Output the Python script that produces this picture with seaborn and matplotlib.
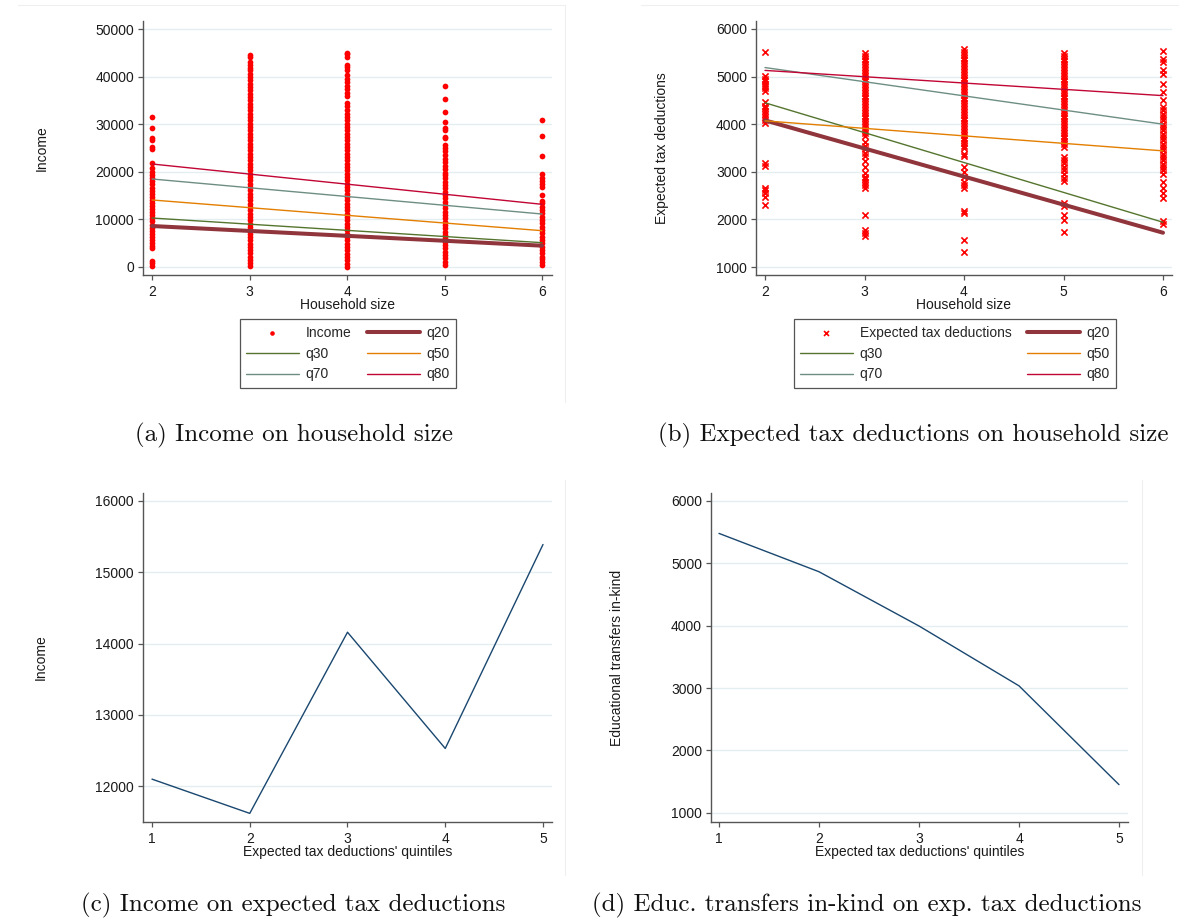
import numpy as np
import pandas as pd
import matplotlib
matplotlib.use("Agg")
import matplotlib.pyplot as plt
from matplotlib.lines import Line2D
import seaborn as sns

# ---------------- data ----------------
hh_sizes = [2, 3, 4, 5, 6]
inc_hh2 = [280, 770, 1330, 3920, 4400, 5100, 5650, 6300, 7000, 7600, 8250, 8900, 9600, 10200,
           10900, 11500, 12150, 12800, 13500, 14100, 14800, 15400, 16050, 16700, 17400, 18000,
           18700, 19300, 20000, 20700, 21900, 24800, 25300, 26700, 27200, 29300, 31600]
inc_hh3 = [300, 900, 1500, 2200, 2850, 3500, 4200, 4900, 5600, 6300, 7000, 7650, 8400, 9100,
           9800, 10500, 11150, 11900, 12600, 13300, 14000, 14700, 15400, 16100, 16800, 17500,
           18200, 18900, 19600, 20300, 21000, 21700, 22400, 23100, 23800, 24500, 25200, 25900,
           26600, 27300, 28000, 28700, 29400, 30100, 30800, 31500, 32200, 32900, 33600, 34300,
           35000, 35700, 36400, 37100, 37800, 38500, 39200, 39900, 40600, 41300, 41900, 42400,
           43100, 44200, 44500]
inc_hh4 = [70, 700, 1400, 2100, 2800, 3500, 4200, 4900, 5600, 6300, 7000, 7700, 8400, 9100,
           9800, 10500, 11200, 11900, 12600, 13300, 14000, 14700, 15400, 16100, 16800, 17500,
           18200, 18900, 19600, 20300, 21000, 21700, 22400, 23100, 23800, 24500, 25200, 25900,
           26600, 27300, 28000, 28700, 29400, 30100, 30800, 31500, 32200, 33000, 33800, 34500,
           35900, 36600, 37300, 38000, 38800, 39600, 40300, 41400, 42000, 42400, 44200, 44700,
           45000]
inc_hh5 = [450, 1100, 1800, 2500, 3200, 3900, 4600, 5300, 6000, 6700, 7400, 8100, 8800, 9500,
           10200, 10900, 11600, 12300, 13000, 13700, 14400, 15100, 15800, 16500, 17200, 17900,
           18600, 19300, 19800, 20500, 21200, 22000, 22700, 23500, 24300, 25100, 25700, 27000,
           27400, 28700, 29300, 30500, 32500, 35300, 38000]
inc_hh6 = [480, 1000, 1700, 2200, 3000, 3600, 4300, 5000, 5700, 6400, 7100, 7800, 8500, 9200,
           9900, 10600, 11300, 12000, 12700, 13400, 13900, 15100, 16800, 17400, 18100, 18800,
           19500, 23400, 27600, 30900]

ded_hh2 = [5520, 5010, 4960, 4900, 4850, 4800, 4750, 4690, 4470, 4390, 4330, 4270, 4210, 4150,
           4090, 4030, 3175, 3130, 2650, 2610, 2560, 2480, 2300]
ded_hh3 = [5500, 5440, 5380, 5320, 5260, 5200, 5140, 5080, 5020, 4960, 4900, 4840, 4780, 4720,
           4660, 4600, 4540, 4480, 4420, 4360, 4300, 4240, 4180, 4120, 4060, 4000, 3940, 3880,
           3820, 3760, 3620, 3540, 3470, 3400, 3330, 3220, 3110, 2980, 2900, 2850, 2790, 2730,
           2670, 2100, 1780, 1710, 1650]
ded_hh4 = [5580, 5520, 5460, 5400, 5340, 5280, 5220, 5160, 5100, 5040, 4980, 4920, 4860, 4800,
           4740, 4680, 4620, 4560, 4500, 4440, 4380, 4320, 4260, 4200, 4140, 4080, 4020, 3960,
           3900, 3840, 3780, 3720, 3660, 3600, 3540, 3500, 3370, 3330, 3100, 3000, 2900, 2780,
           2720, 2660, 2180, 2130, 1570, 1320]
ded_hh5 = [5500, 5440, 5380, 5320, 5260, 5200, 5140, 5080, 5020, 4960, 4900, 4840, 4780, 4720,
           4660, 4600, 4540, 4480, 4420, 4360, 4300, 4240, 4180, 4120, 4060, 4000, 3940, 3880,
           3820, 3760, 3700, 3640, 3580, 3530, 3320, 3250, 3180, 3100, 3040, 2950, 2880, 2800,
           2340, 2280, 2100, 1990, 1730]
ded_hh6 = [5540, 5380, 5310, 5130, 5060, 4850, 4680, 4500, 4360, 4290, 4220, 4150, 4080, 4010,
           3940, 3870, 3800, 3730, 3660, 3590, 3520, 3450, 3380, 3310, 3240, 3170, 3100, 3030,
           2960, 2790, 2650, 2550, 2450, 1960, 1910]

# quantile regression fits evaluated at household size 2 and 6
hh_ends = [2, 6]
inc_q20 = [8610, 4480]
inc_q30 = [10290, 5110]
inc_q50 = [14080, 7630]
inc_q70 = [18490, 11130]
inc_q80 = [21640, 13170]
ded_q20 = [4080, 1720]
ded_q30 = [4450, 1940]
ded_q50 = [4070, 3440]
ded_q70 = [5190, 4000]
ded_q80 = [5130, 4600]

quintiles = [1, 2, 3, 4, 5]
income_by_quintile = [12100, 11620, 14160, 12530, 15390]
educ_by_quintile = [5480, 4865, 3995, 3035, 1450]

income_ticks = [0, 10000, 20000, 30000, 40000, 50000]
ded_ticks = [1000, 2000, 3000, 4000, 5000, 6000]
inc_q_ticks = [12000, 13000, 14000, 15000, 16000]
educ_ticks = [1000, 2000, 3000, 4000, 5000, 6000]

captions = ["(a) Income on household size",
            "(b) Expected tax deductions on household size",
            "(c) Income on expected tax deductions",
            "(d) Educ. transfers in-kind on exp. tax deductions"]

# ---------------- style ----------------
sns.set_theme(style="white")
plt.rcParams["font.family"] = ["Liberation Sans", "DejaVu Sans"]

C_NAVY = "#1a476f"
C_MAROON = "#90353b"
C_GREEN = "#55752f"
C_ORANGE = "#e37e00"
C_TEAL = "#6e8e84"
C_CRAN = "#c10534"
C_RED = "#ff0000"
AX_COL = "#555555"
GRID_COL = "#e3eef0"
FS = 10

W, H = 1179, 922
fig = plt.figure(figsize=(W / 100, H / 100), dpi=100)
fig.patch.set_facecolor("white")


def add_ax(l, t, r, b):
    return fig.add_axes([l / W, 1 - b / H, (r - l) / W, (b - t) / H])


def style(ax, xticks, yticks):
    ax.set_facecolor("white")
    for s in ["top", "right"]:
        ax.spines[s].set_visible(False)
    for s in ["left", "bottom"]:
        ax.spines[s].set_color(AX_COL)
        ax.spines[s].set_linewidth(1.0)
    ax.set_xticks(xticks, labels=[str(v) for v in xticks])
    ax.set_yticks(yticks, labels=[str(v) for v in yticks])
    ax.tick_params(axis="both", which="major", bottom=True, left=True, direction="out",
                   length=3.5, width=0.9, color=AX_COL, labelsize=FS, labelcolor="#1a1a1a")
    ax.tick_params(axis="x", pad=4)
    ax.tick_params(axis="y", pad=3)
    ax.grid(axis="y", color=GRID_COL, linewidth=1.0)
    ax.grid(axis="x", visible=False)
    ax.set_axisbelow(True)


def labels(ax, xlabel, ylabel, ylab_x, xlab_y):
    ax.set_xlabel(xlabel, fontsize=FS, color="#1a1a1a")
    ax.set_ylabel(ylabel, fontsize=FS, color="#1a1a1a")
    ax.xaxis.set_label_coords(0.5, xlab_y)
    ax.xaxis.label.set_verticalalignment("center")
    ax.yaxis.set_label_coords(ylab_x, 0.5)
    ax.yaxis.label.set_verticalalignment("center")


# ---------------- panel (a) ----------------
ax_a = add_ax(143, 21, 552, 275)
df_a = pd.DataFrame({
    "hh": [2] * len(inc_hh2) + [3] * len(inc_hh3) + [4] * len(inc_hh4) + [5] * len(inc_hh5) + [6] * len(inc_hh6),
    "income": inc_hh2 + inc_hh3 + inc_hh4 + inc_hh5 + inc_hh6,
})
sns.scatterplot(data=df_a, x="hh", y="income", ax=ax_a, color=C_RED, s=17, marker="o",
                linewidth=0, label="Income", zorder=3)
for vals, col, lw, lab in [(inc_q20, C_MAROON, 2.9, "q20"), (inc_q30, C_GREEN, 1.0, "q30"),
                           (inc_q50, C_ORANGE, 1.0, "q50"), (inc_q70, C_TEAL, 1.0, "q70"),
                           (inc_q80, C_CRAN, 1.0, "q80")]:
    sns.lineplot(x=hh_ends, y=vals, ax=ax_a, color=col, linewidth=lw, label=lab, zorder=4)
ax_a.set_xlim(2 - 9 / 97.5, 6 + 10 / 97.5)
ax_a.set_ylim(-1681, 51681)
style(ax_a, hh_sizes, income_ticks)
labels(ax_a, "Household size", "Income", (42 - 143) / 409, -(305 - 275) / 254)

# ---------------- panel (b) ----------------
ax_b = add_ax(756, 21, 1172, 275)
df_b = pd.DataFrame({
    "hh": [2] * len(ded_hh2) + [3] * len(ded_hh3) + [4] * len(ded_hh4) + [5] * len(ded_hh5) + [6] * len(ded_hh6),
    "ded": ded_hh2 + ded_hh3 + ded_hh4 + ded_hh5 + ded_hh6,
})
sns.scatterplot(data=df_b, x="hh", y="ded", ax=ax_b, color=C_RED, s=20, marker="x",
                linewidth=1.2, label="Expected tax deductions", zorder=3)
for vals, col, lw, lab in [(ded_q20, C_MAROON, 2.9, "q20"), (ded_q30, C_GREEN, 1.0, "q30"),
                           (ded_q50, C_ORANGE, 1.0, "q50"), (ded_q70, C_TEAL, 1.0, "q70"),
                           (ded_q80, C_CRAN, 1.0, "q80")]:
    sns.lineplot(x=hh_ends, y=vals, ax=ax_b, color=col, linewidth=lw, label=lab, zorder=4)
ax_b.set_xlim(2 - 9 / 99.5, 6 + 9 / 99.5)
ax_b.set_ylim(832, 6168)
style(ax_b, hh_sizes, ded_ticks)
labels(ax_b, "Household size", "Expected tax deductions", (662 - 756) / 416, -(305 - 275) / 254)


def make_legend(ax, cx, cy):
    h, l = ax.get_legend_handles_labels()
    d = dict(zip(l, h))
    order = [l[0], "q30", "q70", "q20", "q50", "q80"]
    leg = ax.legend([d[k] for k in order], order, loc="center", bbox_to_anchor=(cx / W, 1 - cy / H),
                    bbox_transform=fig.transFigure, ncol=2, fontsize=FS, frameon=True, fancybox=False,
                    edgecolor=AX_COL, framealpha=1, handlelength=3.8, columnspacing=1.1,
                    labelspacing=0.5, borderpad=0.45, handletextpad=0.5, markerscale=0.8)
    leg.get_frame().set_linewidth(0.9)


make_legend(ax_a, 348, 353.5)
make_legend(ax_b, 955, 353.5)

# ---------------- panel (c) ----------------
ax_c = add_ax(143, 493, 552, 822)
sns.lineplot(x=quintiles, y=income_by_quintile, ax=ax_c, color=C_NAVY, linewidth=1.0)
ax_c.set_xlim(1 - 9 / 97.75, 5 + 9 / 97.75)
ax_c.set_ylim(11499, 16112)
style(ax_c, quintiles, inc_q_ticks)
labels(ax_c, "Expected tax deductions' quintiles", "Income", (41 - 143) / 409, -(852 - 822) / 329)

# ---------------- panel (d) ----------------
ax_d = add_ax(711, 493, 1128, 822)
sns.lineplot(x=quintiles, y=educ_by_quintile, ax=ax_d, color=C_NAVY, linewidth=1.0)
ax_d.set_xlim(1 - 8 / 100, 5 + 9 / 100)
ax_d.set_ylim(851, 6128)
style(ax_d, quintiles, educ_ticks)
labels(ax_d, "Expected tax deductions' quintiles", "Educational transfers in-kind",
       (617 - 711) / 417, -(852 - 822) / 329)

# faint graph-region borders
frame_col = "#efefef"
for (x0, y0, x1, y1) in [(18, 5, 565, 5), (565, 5, 565, 402), (641, 5, 1179, 5),
                         (565, 480, 565, 875), (1142, 480, 1142, 875)]:
    fig.add_artist(Line2D([x0 / W, x1 / W], [1 - y0 / H, 1 - y1 / H], color=frame_col,
                          linewidth=0.8, transform=fig.transFigure))

# captions
for txt, cx, cy in zip(captions, [294, 913, 293, 867], [435, 435, 905, 905]):
    fig.text(cx / W, 1 - cy / H, txt, ha="center", va="center", fontsize=18,
             family="cmr10", color="#111111")

fig.savefig("out.png", dpi=100, facecolor="white")
